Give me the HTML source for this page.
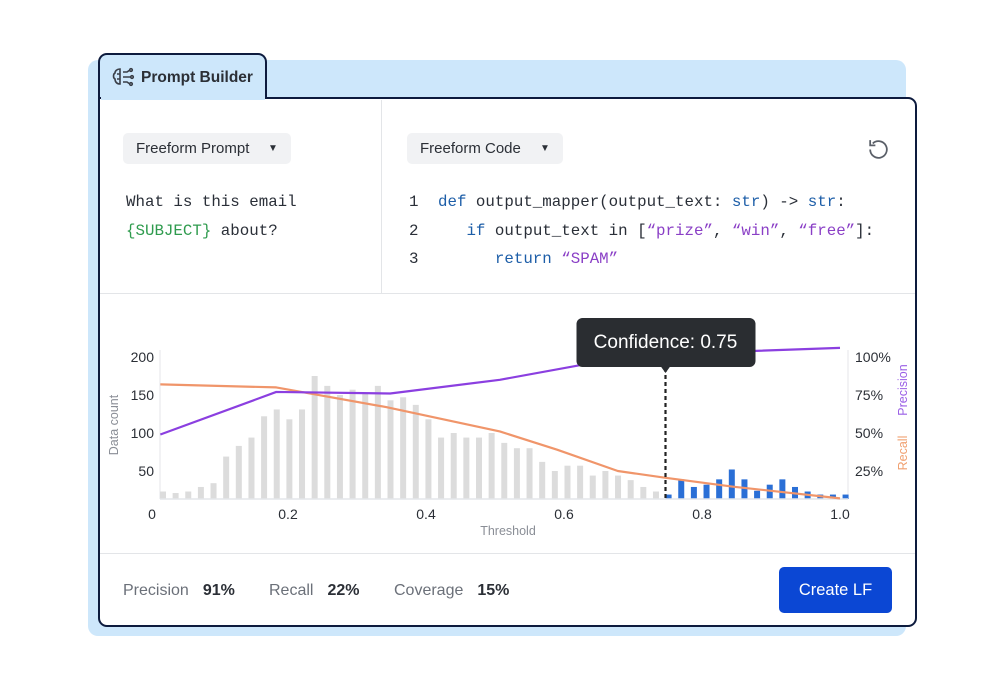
<!DOCTYPE html>
<html><head><meta charset="utf-8"><style>
*{margin:0;padding:0;box-sizing:border-box}
body{width:1000px;height:687px;background:#fff;font-family:"Liberation Sans",sans-serif;position:relative;overflow:hidden}
.abs{position:absolute}
.mono{font-family:"Liberation Mono",monospace;font-size:15.8px;color:#2a2f38;white-space:pre}
.dd{position:absolute;background:#f1f2f4;border-radius:5px;height:31px;font-size:15px;color:#2b2f36;line-height:31px;padding-left:13px}
.dd span{position:absolute;font-size:10px;top:0}
.kw{color:#1d5ea8}.st{color:#8a3fc6}.gr{color:#2f9b4e}
.ft{font-size:16px;color:#6b7079}.ft b{color:#2b2f36;margin-left:14px}
</style></head><body>
<div class="abs" style="left:88px;top:60px;width:818px;height:576px;background:#cde7fb;border-radius:10px"></div>
<div class="abs" style="left:98px;top:53px;width:169px;height:60px;background:#cde7fb;border:2.5px solid #0d1b3e;border-bottom:none;border-radius:9px 9px 0 0"></div>
<div class="abs" style="left:98px;top:97px;width:819px;height:530px;background:#fff;border:2.5px solid #0d1b3e;border-radius:0 9px 9px 9px"></div>
<div class="abs" style="left:100.5px;top:96px;width:164px;height:4px;background:#cde7fb"></div>
<svg class="abs" style="left:111px;top:66px" width="24" height="24" viewBox="0 0 24 24" fill="none" stroke="#3a3f48" stroke-width="1.6"><path d="M9 3c-3 0-5 2-5 4-2 1-2 5 0 6 0 3 2 5 5 5V3zM9 8H6M9 13H6"/><path d="M12 6l4 0 3-2M12 11h8M12 16l4 0 3 2"/><circle cx="20" cy="4" r="1.3"/><circle cx="21" cy="11" r="1.3"/><circle cx="20" cy="18" r="1.3"/></svg>
<div class="abs" style="left:141px;top:69px;font-size:15.5px;font-weight:bold;color:#2b2f36">Prompt Builder</div>
<div class="abs" style="left:381px;top:100px;width:1px;height:193px;background:#e3e5e8"></div>
<div class="abs" style="left:100px;top:293px;width:815px;height:1px;background:#e3e5e8"></div>
<div class="abs" style="left:100px;top:553px;width:815px;height:1px;background:#e3e5e8"></div>
<div class="dd" style="left:123px;top:133px;width:168px">Freeform Prompt<span style="left:145px">▼</span></div>
<div class="dd" style="left:407px;top:133px;width:156px">Freeform Code<span style="left:133px">▼</span></div>
<svg class="abs" style="left:866px;top:137px" width="25" height="25" viewBox="0 0 24 24" fill="none" stroke="#5a5f68" stroke-width="1.7"><path d="M4 12a8 8 0 1 0 2.5-5.8"/><path d="M4 3v5h5"/></svg>
<div class="abs mono" style="left:126px;top:188px;line-height:29px">What is this email
<span class="gr">{SUBJECT}</span> about?</div>
<div class="abs mono" style="left:409px;top:188px;line-height:28.5px">1
2
3</div>
<div class="abs mono" style="left:438px;top:188px;line-height:28.5px"><span class="kw">def</span> output_mapper(output_text: <span class="kw">str</span>) -&gt; <span class="kw">str</span>:
   <span class="kw">if</span> output_text in [<span class="st">“prize”</span>, <span class="st">“win”</span>, <span class="st">“free”</span>]:
      <span class="kw">return</span> <span class="st">“SPAM”</span></div>

<svg class="abs" style="left:0;top:0" width="1000" height="687" id="chart"></svg>

<div class="abs ft" style="left:123px;top:582px">Precision<b>91%</b></div>
<div class="abs ft" style="left:269px;top:582px">Recall<b>22%</b></div>
<div class="abs ft" style="left:394px;top:582px">Coverage<b>15%</b></div>
<div class="abs" style="left:779px;top:567px;width:113px;height:46px;background:#0b47d4;border-radius:5px;color:#fff;font-size:16.5px;text-align:center;line-height:46px">Create LF</div>

<script>
const counts=[23,21,23,29,34,69,83,94,122,131,118,131,175,162,150,157,153,162,143,147,137,118,94,100,94,94,100,87,80,80,62,50,57,57,44,50,44,38,29,23,19,39,29,32,39,52,39,24,32,39,29,23,19,19,19];
const binStart=0.0188, binStep=0.01832;
const precT=[0.015,0.183,0.348,0.507,0.652,0.75,1.0];
const precV=[49,77,76,85,97,102,106];
const recT=[0.015,0.183,0.343,0.507,0.59,0.678,0.746,0.845,1.0];
const recV=[82,80,67,51,39,25,20.6,14.7,7];
const leftTicks=[50,100,150,200];
const rightTicks=[25,50,75,100];
const xTicks=[0,0.2,0.4,0.6,0.8,1.0];
const xTickLabels=["0","0.2","0.4","0.6","0.8","1.0"];
const threshold=0.75;

const svg=document.getElementById('chart');
const NS='http://www.w3.org/2000/svg';
const X=t=>150+t*690;
const Yc=v=>509-v*38/50;
const Yp=v=>509-v*1.52;
const base=499;
function mk(tag,attrs,txt){const e=document.createElementNS(NS,tag);for(const k in attrs)e.setAttribute(k,attrs[k]);if(txt!=null)e.textContent=txt;svg.appendChild(e);return e;}
let e;
e=mk('line',{x1:160,y1:350,x2:160,y2:base,stroke:'#e4e6ea'});


e=mk('line',{x1:848,y1:350,x2:848,y2:base,stroke:'#e4e6ea'});


counts.forEach((c,i)=>{const t=binStart+i*binStep;const cx=X(t);
 const b=mk('rect',{x:cx-3,y:Yc(c),width:6,height:Math.max(0,base-Yc(c)),fill:t>=threshold?'#2a6fd6':'#dcdcdc'});
 
 });
e=mk('line',{x1:160,y1:base,x2:848,y2:base,stroke:'#e4e6ea','stroke-width':1.5});


leftTicks.forEach(v=>{const t=mk('text',{x:154,y:Yc(v)+5,'text-anchor':'end','font-size':14,fill:'#2b2f36'},String(v));
 
 });
rightTicks.forEach(v=>{const t=mk('text',{x:855,y:Yp(v)+5,'font-size':14,fill:'#2b2f36'},v+'%');
 
 });
xTicks.forEach((v,i)=>{const t=mk('text',{x:Math.max(152,X(v)),y:519,'text-anchor':'middle','font-size':14,fill:'#2b2f36'},xTickLabels[i]);
 
 });
const clampX=t=>Math.min(Math.max(X(t),160),848);
let rp=recT.map((t,i)=>clampX(t)+','+Yp(recV[i])).join(' ');
e=mk('polyline',{points:rp,fill:'none',stroke:'#f0956a','stroke-width':2.2,'stroke-linejoin':'round'});


let pp=precT.map((t,i)=>clampX(t)+','+Yp(precV[i])).join(' ');
e=mk('polyline',{points:pp,fill:'none',stroke:'#8b3fe0','stroke-width':2.2,'stroke-linejoin':'round'});


const tx=X(threshold)-2;
e=mk('line',{x1:tx,y1:368,x2:tx,y2:base,stroke:'#222','stroke-width':2.2,'stroke-dasharray':'4 3'});


e=mk('rect',{x:tx-89,y:318,width:179,height:49,rx:6,fill:'#2a2d31'});


e=mk('path',{d:`M${tx-5} 366 L${tx} 373 L${tx+5} 366Z`,fill:'#2a2d31'});


e=mk('text',{x:tx,y:348,'text-anchor':'middle','font-size':19,fill:'#fff'},'Confidence: '+threshold.toFixed(2));


e=mk('text',{x:118,y:425,'text-anchor':'middle','font-size':12.5,fill:'#8a8e96',transform:'rotate(-90 118 425)'},'Data count');


e=mk('text',{x:508,y:535,'text-anchor':'middle','font-size':12.5,fill:'#8a8e96'},'Threshold');


e=mk('text',{x:907,y:390,'text-anchor':'middle','font-size':12.5,fill:'#9a5fe6',transform:'rotate(-90 907 390)'},'Precision');


e=mk('text',{x:907,y:453,'text-anchor':'middle','font-size':12.5,fill:'#f0a070',transform:'rotate(-90 907 453)'},'Recall');


</script>
</body></html>
